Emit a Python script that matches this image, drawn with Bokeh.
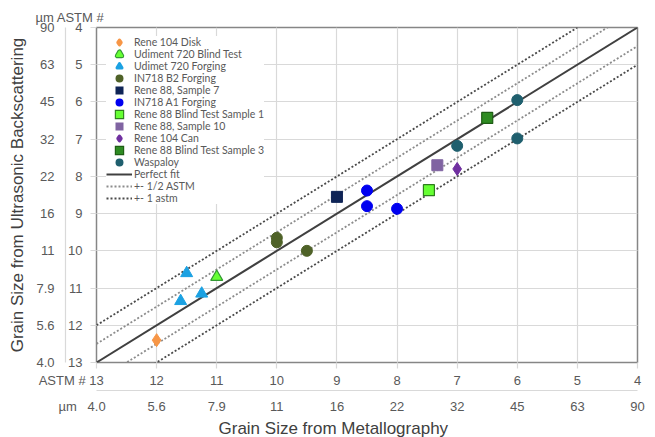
from bokeh.plotting import figure
from bokeh.models import (Range1d, LinearAxis, FixedTicker, Legend, LegendItem,
                          Title, Grid)
from bokeh.embed import file_html
from bokeh.resources import INLINE

# ---------------- data (ASTM grain size numbers) ----------------
astm_ticks = [13, 12, 11, 10, 9, 8, 7, 6, 5, 4]
um_labels = ["4.0", "5.6", "7.9", "11", "16", "22", "32", "45", "63", "90"]

rene104_disk_x = [12.0]
rene104_disk_y = [12.4]
udiment720_blind_x = [11.0]
udiment720_blind_y = [10.7]
udimet720_forg_x = [11.5, 11.6, 11.25]
udimet720_forg_y = [10.6, 11.35, 11.15]
in718_b2_x = [10.0, 10.0, 9.5]
in718_b2_y = [9.65, 9.77, 10.0]
rene88_s7_x = [9.0]
rene88_s7_y = [8.55]
in718_a1_x = [8.5, 8.5, 8.0]
in718_a1_y = [8.38, 8.8, 8.87]
rene88_bt1_x = [7.47]
rene88_bt1_y = [8.37]
rene88_s10_x = [7.33]
rene88_s10_y = [7.7]
rene104_can_x = [7.0]
rene104_can_y = [7.8]
rene88_bt3_x = [6.5]
rene88_bt3_y = [6.43]
waspaloy_x = [7.0, 6.0, 6.0]
waspaloy_y = [7.18, 5.95, 6.98]

fit_x = [13, 4]
half_astm = 0.5
one_astm = 1.0

FONT = "Liberation Sans"
LEGEND_FONT = "Lato"
TICK_COLOR = "#595959"
GRID_COLOR = "#d9d9d9"
NB = "\u00a0"

p = figure(width=655, height=437, x_range=Range1d(13, 4), y_range=Range1d(13, 4),
           output_backend="svg", toolbar_location=None,
           x_axis_location=None, y_axis_location=None,
           min_border_left=96, min_border_right=18, min_border_top=27,
           min_border_bottom=70)
p.outline_line_color = "#868686"
p.outline_line_width = 1.5
p.background_fill_color = "white"
p.border_fill_color = "white"

p.add_layout(Grid(dimension=0, ticker=FixedTicker(ticks=astm_ticks),
                  grid_line_color=GRID_COLOR, grid_line_width=1.2))
p.add_layout(Grid(dimension=1, ticker=FixedTicker(ticks=astm_ticks),
                  grid_line_color=GRID_COLOR, grid_line_width=1.2))


def style_axis(ax, tick_out, standoff, line=False):
    ax.axis_line_color = GRID_COLOR if line else None
    ax.axis_line_width = 1.2
    ax.major_tick_in = 0
    ax.major_tick_out = tick_out
    ax.major_tick_line_color = GRID_COLOR if tick_out else None
    ax.major_tick_line_width = 1.2
    ax.minor_tick_line_color = None
    ax.major_label_standoff = standoff
    ax.major_label_text_font = FONT
    ax.major_label_text_font_size = "13px"
    ax.major_label_text_color = TICK_COLOR


um_over = {t: s for t, s in zip(astm_ticks, um_labels)}
astm_over = {t: str(t) for t in astm_ticks}

# left axes
ly_astm = LinearAxis(ticker=FixedTicker(ticks=astm_ticks), major_label_overrides=astm_over)
style_axis(ly_astm, 6, 8)
ly_um = LinearAxis(ticker=FixedTicker(ticks=astm_ticks), major_label_overrides=um_over)
style_axis(ly_um, 0, 11, line=True)
ly_um.axis_label = "Grain Size from Ultrasonic Backscattering"
ly_um.axis_label_text_font = FONT
ly_um.axis_label_text_font_size = "17px"
ly_um.axis_label_text_font_style = "normal"
ly_um.axis_label_text_color = "#404040"
ly_um.axis_label_standoff = 6
p.add_layout(ly_astm, "left")
p.add_layout(ly_um, "left")

# bottom axes (first tick label carries the row caption, padded so the number stays centred)
bx_astm_over = dict(astm_over)
bx_astm_over[13] = "ASTM #" + NB + "13" + NB * 14
bx_um_over = dict(um_over)
bx_um_over[13] = "µm" + NB * 3 + um_labels[0] + NB * 8
bx_astm = LinearAxis(ticker=FixedTicker(ticks=astm_ticks), major_label_overrides=bx_astm_over)
style_axis(bx_astm, 6, 4)
bx_um = LinearAxis(ticker=FixedTicker(ticks=astm_ticks), major_label_overrides=bx_um_over)
style_axis(bx_um, 0, 8, line=True)
p.add_layout(bx_astm, "below")
p.add_layout(bx_um, "below")
p.add_layout(Title(text="Grain Size from Metallography", align="left", offset=122,
                   text_font=FONT, text_font_size="17px", text_font_style="normal",
                   text_color="#404040", standoff=0), "below")

# caption above the left tick columns
p.add_layout(Title(text="µm ASTM #", align="left", offset=-61, text_font=FONT,
                   text_font_size="13px", text_font_style="normal",
                   text_color=TICK_COLOR, standoff=5), "above")

# reference lines
r_fit = p.line(fit_x, fit_x, line_color="#404040", line_width=2)
r_h1 = p.line(fit_x, [v - half_astm for v in fit_x], line_color="#8c8c8c", line_width=1.8, line_dash="2 2")
r_h2 = p.line(fit_x, [v + half_astm for v in fit_x], line_color="#8c8c8c", line_width=1.8, line_dash="2 2")
r_o1 = p.line(fit_x, [v - one_astm for v in fit_x], line_color="#4a4a4a", line_width=1.8, line_dash="2 2")
r_o2 = p.line(fit_x, [v + one_astm for v in fit_x], line_color="#4a4a4a", line_width=1.8, line_dash="2 2")


def series(x, y, marker, size, fill, edge=None, edge_w=1.2):
    """Plot a series; return hidden renderers used only to draw a bigger legend swatch."""
    join = "miter" if marker == "square" else "round"
    p.scatter(x, y, marker=marker, size=size, fill_color=fill,
              line_color=edge or fill, line_width=edge_w if edge else 1)
    leg = []
    if edge:
        leg.append(p.scatter(x, y, marker=marker, size=size, fill_color=edge,
                             line_color=edge, line_width=4.6, line_join=join, visible=False))
        leg.append(p.scatter(x, y, marker=marker, size=size, fill_color=fill,
                             line_color=fill, line_width=2.4, line_join=join, visible=False))
    else:
        leg.append(p.scatter(x, y, marker=marker, size=size, fill_color=fill,
                             line_color=fill, line_width=3.2, line_join=join, visible=False))
    return leg


l1 = series(rene104_disk_x, rene104_disk_y, "diamond", 13, "#F79646")
l2 = series(udiment720_blind_x, udiment720_blind_y, "triangle", 12, "#66FF33", "#339933")
l3 = series(udimet720_forg_x, udimet720_forg_y, "triangle", 12, "#1BA1E2")
l4 = series(in718_b2_x, in718_b2_y, "circle", 11, "#4F6228")
l5 = series(rene88_s7_x, rene88_s7_y, "square", 11, "#0F2456")
l6 = series(in718_a1_x, in718_a1_y, "circle", 11, "#0000F0")
l7 = series(rene88_bt1_x, rene88_bt1_y, "square", 11, "#66FF33", "#2E7D1E")
l8 = series(rene88_s10_x, rene88_s10_y, "square", 11, "#8064A2")
l9 = series(rene104_can_x, rene104_can_y, "diamond", 13, "#7030A0")
l10 = series(rene88_bt3_x, rene88_bt3_y, "square", 11, "#2E8B22", "#1E5C14")
l11 = series(waspaloy_x, waspaloy_y, "circle", 11, "#1F5F6E")

items = [
    LegendItem(label="Rene 104 Disk", renderers=l1),
    LegendItem(label="Udiment 720 Blind Test", renderers=l2),
    LegendItem(label="Udimet 720 Forging", renderers=l3),
    LegendItem(label="IN718 B2 Forging", renderers=l4),
    LegendItem(label="Rene 88, Sample 7", renderers=l5),
    LegendItem(label="IN718 A1 Forging", renderers=l6),
    LegendItem(label="Rene 88 Blind Test Sample 1", renderers=l7),
    LegendItem(label="Rene 88, Sample 10", renderers=l8),
    LegendItem(label="Rene 104 Can", renderers=l9),
    LegendItem(label="Rene 88 Blind Test Sample 3", renderers=l10),
    LegendItem(label="Waspaloy", renderers=l11),
    LegendItem(label="Perfect fit", renderers=[r_fit]),
    LegendItem(label="+- 1/2 ASTM", renderers=[r_h1]),
    LegendItem(label="+- 1 astm", renderers=[r_o1]),
]
legend = Legend(items=items, location=(10, 158), margin=0, padding=0,
                label_text_font=LEGEND_FONT, label_text_font_size="10.5px",
                label_text_color=TICK_COLOR, label_height=12, glyph_height=12,
                glyph_width=26, label_standoff=2, spacing=0,
                border_line_color=None, background_fill_color="white",
                background_fill_alpha=1.0, inactive_fill_alpha=0.0)
p.add_layout(legend)

open("out.html", "w").write(file_html(p, INLINE))
